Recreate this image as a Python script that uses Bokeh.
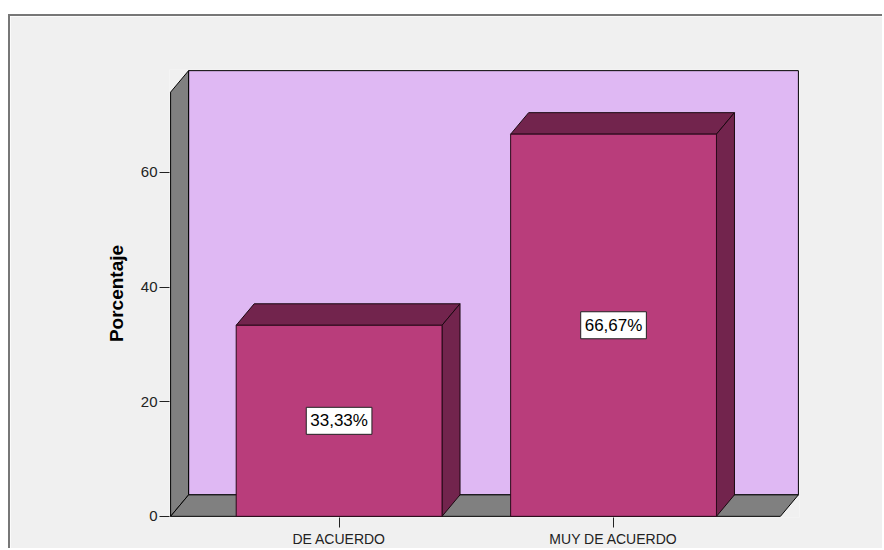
from bokeh.plotting import figure
from bokeh.models import Range1d, FixedTicker, ColumnDataSource
from bokeh.embed import file_html
from bokeh.resources import INLINE
from bokeh.core.properties import value

# ---- data ----
categories = ["DE ACUERDO", "MUY DE ACUERDO"]
percentages = [33.33, 66.67]
bar_labels = ["33,33%", "66,67%"]
y_ticks = [0, 20, 40, 60]
y_max = 74          # top of the walls (axis units)

# ---- style / geometry constants ----
BAR_W = 0.75        # bar width in category units
DX = 0.0656         # 3D depth offset, x (category units)
DY = 3.75           # 3D depth offset, y (percent units)
X_LO, X_HI = 0.386, 2.608
PADX, PADY = 0.004, 0.2

WALL = "#DFB8F3"
SIDE = "#808080"
BAR_FRONT = "#B93D7B"
BAR_DARK = "#72244D"
BG = "#F0F0F0"
FONT = "Liberation Sans"

xpos = [i + 1 for i in range(len(categories))]

p = figure(width=874, height=534,
           x_range=Range1d(X_LO - PADX, X_HI + DX + PADX),
           y_range=Range1d(-PADY, y_max + DY + PADY),
           output_backend="svg", toolbar_location=None,
           min_border_left=159, min_border_right=85,
           min_border_top=53, min_border_bottom=33)
p.styles = {"margin-top": "14px", "margin-left": "8px",
            "border-top": "2px solid #777777",
            "border-left": "2px solid #777777"}
p.background_fill_color = BG
p.border_fill_color = BG
p.outline_line_color = None
p.xgrid.visible = False
p.ygrid.visible = False

# back wall
p.quad(left=[X_LO + DX], right=[X_HI + DX], bottom=[DY], top=[y_max + DY],
       fill_color=WALL, line_color="black", line_width=1)
# left wall
p.patch(x=[X_LO, X_LO + DX, X_LO + DX, X_LO], y=[0, DY, y_max + DY, y_max],
        fill_color=SIDE, line_color="black", line_width=1)
# floor
p.patch(x=[X_LO, X_HI, X_HI + DX, X_LO + DX], y=[0, 0, DY, DY],
        fill_color=SIDE, line_color="black", line_width=1)

# bars
lefts = [x - BAR_W / 2 for x in xpos]
rights = [x + BAR_W / 2 for x in xpos]
top_xs = [[l, r, r + DX, l + DX] for l, r in zip(lefts, rights)]
top_ys = [[v, v, v + DY, v + DY] for v in percentages]
side_xs = [[r, r + DX, r + DX, r] for r in rights]
side_ys = [[0, DY, v + DY, v] for v in percentages]

p.patches(xs=top_xs, ys=top_ys, fill_color=BAR_DARK, line_color="#1a0810", line_width=1)
p.patches(xs=side_xs, ys=side_ys, fill_color=BAR_DARK, line_color="#1a0810", line_width=1)
p.quad(left=lefts, right=rights, bottom=[0] * len(xpos), top=percentages,
       fill_color=BAR_FRONT, line_color="#2a0a1a", line_width=1)

# value labels
src = ColumnDataSource(dict(x=xpos, y=[v / 2 for v in percentages], t=bar_labels))
p.text(x="x", y="y", text="t", source=src, text_align="center", text_baseline="middle",
       text_font=value(FONT), text_font_size="17px", text_color="black",
       background_fill_color="white", border_line_color="#222222", padding=4)

# axes
p.yaxis.ticker = FixedTicker(ticks=y_ticks)
p.yaxis.axis_line_color = None
p.yaxis.major_tick_in = 0
p.yaxis.major_tick_out = 10
p.yaxis.minor_tick_line_color = None
p.yaxis.major_tick_line_color = "#222222"
p.yaxis.major_label_standoff = 2
p.yaxis.major_label_text_font = FONT
p.yaxis.major_label_text_font_size = "15px"
p.yaxis.major_label_text_color = "#222222"
p.yaxis.axis_label = "Porcentaje"
p.yaxis.axis_label_text_font = FONT
p.yaxis.axis_label_text_font_size = "19px"
p.yaxis.axis_label_text_font_style = "bold"
p.yaxis.axis_label_text_color = "black"
p.yaxis.axis_label_standoff = 11

p.xaxis.ticker = FixedTicker(ticks=xpos)
p.xaxis.major_label_overrides = {x: c for x, c in zip(xpos, categories)}
p.xaxis.axis_line_color = None
p.xaxis.major_tick_in = 0
p.xaxis.major_tick_out = 10
p.xaxis.minor_tick_line_color = None
p.xaxis.major_tick_line_color = "#222222"
p.xaxis.major_label_standoff = 3
p.xaxis.major_label_text_font = FONT
p.xaxis.major_label_text_font_size = "14px"
p.xaxis.major_label_text_color = "#222222"

open("out.html", "w").write(file_html(p, INLINE))
